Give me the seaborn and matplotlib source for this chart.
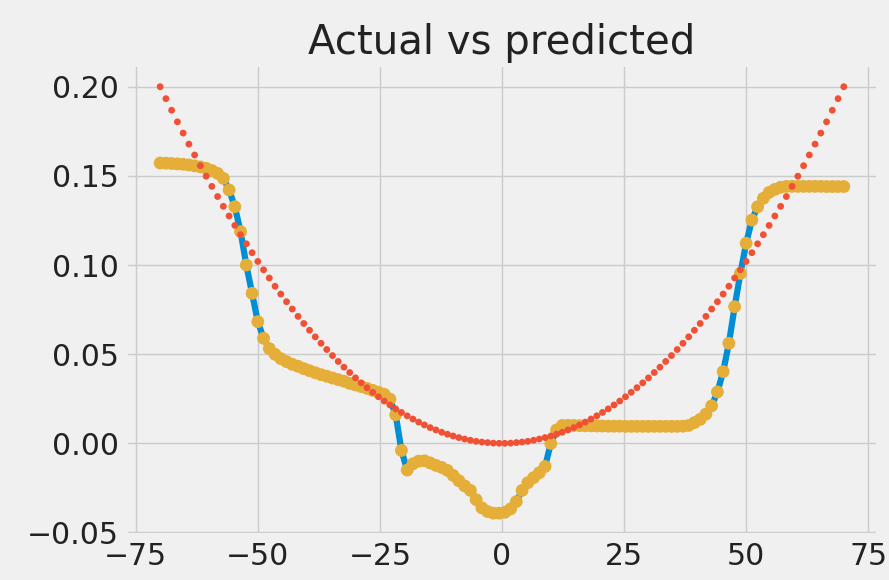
import numpy as np
import pandas as pd
import matplotlib
matplotlib.use("Agg")
import matplotlib.pyplot as plt
import seaborn as sns

# Sample grid shared by all three series
x_values = np.linspace(-70, 70, 120)

# Ground-truth curve (drawn as a line)
actual = [
    0.1572, 0.1571, 0.1569, 0.1567, 0.1565, 0.1561, 0.1556, 0.1550, 0.1542, 0.1530,
    0.1514, 0.1486, 0.1421, 0.1327, 0.1187, 0.1000, 0.0841, 0.0682, 0.0589, 0.0531,
    0.0499, 0.0475, 0.0458, 0.0443, 0.0432, 0.0419, 0.0407, 0.0396, 0.0385, 0.0376,
    0.0366, 0.0357, 0.0348, 0.0336, 0.0327, 0.0318, 0.0308, 0.0297, 0.0286, 0.0275,
    0.0248, 0.0160, -0.0040, -0.0150, -0.0115, -0.0100, -0.0098, -0.0110, -0.0124, -0.0135,
    -0.0152, -0.0180, -0.0210, -0.0239, -0.0264, -0.0316, -0.0362, -0.0383, -0.0392, -0.0392,
    -0.0387, -0.0368, -0.0327, -0.0264, -0.0221, -0.0193, -0.0165, -0.0130, -0.0001, 0.0075,
    0.0100, 0.0101, 0.0100, 0.0099, 0.0098, 0.0098, 0.0097, 0.0097, 0.0096, 0.0096,
    0.0096, 0.0095, 0.0095, 0.0095, 0.0095, 0.0095, 0.0095, 0.0095, 0.0095, 0.0095,
    0.0095, 0.0096, 0.0100, 0.0116, 0.0134, 0.0164, 0.0210, 0.0288, 0.0402, 0.0561,
    0.0766, 0.0953, 0.1122, 0.1252, 0.1327, 0.1374, 0.1407, 0.1424, 0.1436, 0.1441,
    0.1441, 0.1441, 0.1441, 0.1441, 0.1441, 0.1441, 0.1440, 0.1440, 0.1440, 0.1440,
]

# Model output at the same points (drawn as large dots)
predicted = list(actual)

# Quadratic baseline (small red dots)
baseline = [
    0.2000, 0.1933, 0.1868, 0.1803, 0.1740, 0.1678, 0.1617, 0.1557, 0.1498, 0.1441,
    0.1384, 0.1329, 0.1275, 0.1222, 0.1170, 0.1119, 0.1069, 0.1020, 0.0973, 0.0927,
    0.0881, 0.0837, 0.0794, 0.0753, 0.0712, 0.0672, 0.0634, 0.0597, 0.0561, 0.0526,
    0.0492, 0.0459, 0.0427, 0.0397, 0.0367, 0.0339, 0.0312, 0.0286, 0.0261, 0.0237,
    0.0215, 0.0193, 0.0173, 0.0154, 0.0136, 0.0119, 0.0103, 0.0088, 0.0075, 0.0062,
    0.0051, 0.0041, 0.0032, 0.0024, 0.0017, 0.0011, 0.0007, 0.0004, 0.0001, 0.0000,
    0.0000, 0.0001, 0.0004, 0.0007, 0.0011, 0.0017, 0.0024, 0.0032, 0.0041, 0.0051,
    0.0062, 0.0075, 0.0088, 0.0103, 0.0119, 0.0136, 0.0154, 0.0173, 0.0193, 0.0215,
    0.0237, 0.0261, 0.0286, 0.0312, 0.0339, 0.0367, 0.0397, 0.0427, 0.0459, 0.0492,
    0.0526, 0.0561, 0.0597, 0.0634, 0.0672, 0.0712, 0.0753, 0.0794, 0.0837, 0.0881,
    0.0927, 0.0973, 0.1020, 0.1069, 0.1119, 0.1170, 0.1222, 0.1275, 0.1329, 0.1384,
    0.1441, 0.1498, 0.1557, 0.1617, 0.1678, 0.1740, 0.1803, 0.1868, 0.1933, 0.2000,
]

title_text = "Actual vs predicted"

plt.style.use("fivethirtyeight")
plt.rcParams["font.family"] = ["DejaVu Sans"]

df = pd.DataFrame({"x": x_values, "actual": actual,
                   "predicted": predicted, "baseline": baseline})

fig = plt.figure(figsize=(8.89, 5.80), dpi=100)
ax = fig.add_axes([0.1417, 0.0783, 0.8459, 0.8091])

sns.lineplot(data=df, x="x", y="actual", ax=ax, color="#008fd5",
             linewidth=4.5, zorder=2)
sns.scatterplot(data=df, x="x", y="predicted", ax=ax, color="#e5ae38",
                s=85, linewidth=0, edgecolor="none", zorder=3)
sns.scatterplot(data=df, x="x", y="baseline", ax=ax, color="#f05034",
                s=24, linewidth=0, edgecolor="none", zorder=4)

ax.set_xlim(-77, 77)
ax.set_ylim(-0.0512, 0.2120)
ax.set_xticks([-75, -50, -25, 0, 25, 50, 75])
ax.set_yticks([-0.05, 0.00, 0.05, 0.10, 0.15, 0.20])
ax.set_xlabel("")
ax.set_ylabel("")
ax.tick_params(axis="both", labelsize=21.5, colors="#222222", pad=5)
ax.set_title(title_text, fontsize=29, color="#222222", pad=8)

fig.savefig("out.png", dpi=100, facecolor="#f0f0f0")
